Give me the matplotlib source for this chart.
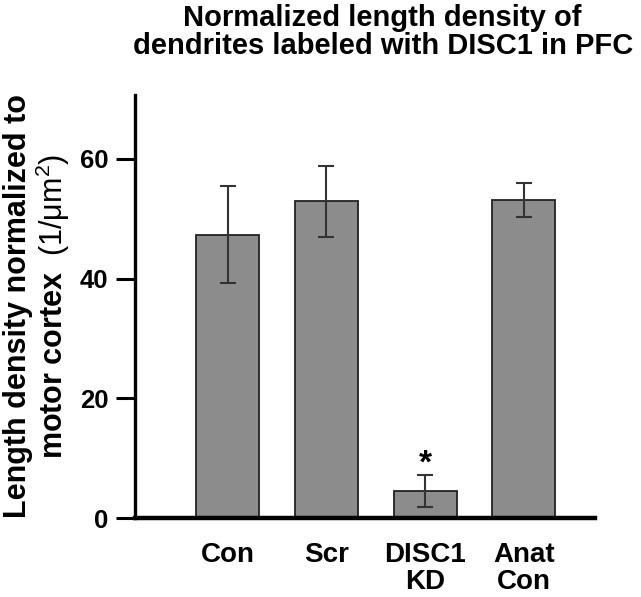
import matplotlib
matplotlib.use("Agg")
import matplotlib.pyplot as plt

categories = ["Con", "Scr", "DISC1\nKD", "Anat\nCon"]
values = [47.3, 52.9, 4.5, 53.1]
errors = [8.1, 5.9, 2.7, 2.8]
yticks = [0, 20, 40, 60]

plt.rcParams['font.family'] = ['Liberation Sans', 'DejaVu Sans']
plt.rcParams['font.weight'] = 'bold'
plt.rcParams['mathtext.fontset'] = 'custom'
plt.rcParams['mathtext.rm'] = 'Liberation Sans:normal'
plt.rcParams['mathtext.it'] = 'Liberation Sans:italic'
plt.rcParams['mathtext.bf'] = 'Liberation Sans:bold'

fig = plt.figure(figsize=(6.41, 5.97), dpi=100)
ax = fig.add_axes([0.2106, 0.1323, 0.7174, 0.7087])

x = list(range(len(categories)))
ax.bar(x, values, width=0.64, color='#8c8c8c', edgecolor='#222222', linewidth=1.3, zorder=2)
ax.errorbar(x, values, yerr=errors, fmt='none', ecolor='#333333', elinewidth=1.5,
            capsize=6, capthick=1.5, zorder=3)
ax.text(2, values[2] + errors[2] - 0.8, '*', ha='center', va='bottom', fontsize=24, fontweight='bold')

ax.set_xlim(-0.94, 3.72)
ax.set_ylim(0, 70.7)
ax.set_yticks(yticks)
ax.set_yticklabels([str(t) for t in yticks], fontsize=18.5, fontweight='bold')
ax.set_xticks(x)
ax.set_xticklabels(categories, fontsize=20, fontweight='bold', linespacing=1.05)
ax.tick_params(axis='x', length=0, pad=17)
ax.tick_params(axis='y', length=14, width=2.2, pad=5, direction='out')

for s in ['top', 'right']:
    ax.spines[s].set_visible(False)
ax.spines['left'].set_linewidth(2.4)
ax.spines['bottom'].set_linewidth(3.2)

ax.set_ylabel("Length density normalized to\nmotor cortex  $\\mathrm{(1/\\mu m^{2})}$", fontsize=22,
              fontweight='bold', linespacing=1.0, labelpad=6)

fig.text(0.597, 0.993, "Normalized length density of\ndendrites labeled with DISC1 in PFC",
         ha='center', va='top', fontsize=21, fontweight='bold', linespacing=1.0)

fig.savefig("out.png", dpi=100)
